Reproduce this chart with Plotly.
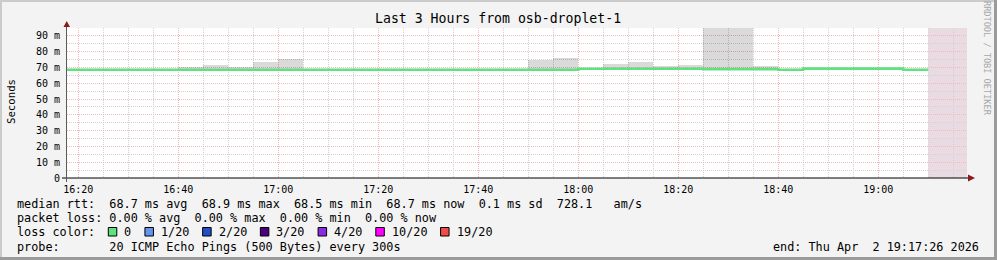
import plotly.graph_objects as go
import pandas as pd

# ---------------- data ----------------
step_start = [
    "2026-04-02 16:15", "2026-04-02 16:20", "2026-04-02 16:25", "2026-04-02 16:30",
    "2026-04-02 16:35", "2026-04-02 16:40", "2026-04-02 16:45", "2026-04-02 16:50",
    "2026-04-02 16:55", "2026-04-02 17:00", "2026-04-02 17:05", "2026-04-02 17:10",
    "2026-04-02 17:15", "2026-04-02 17:20", "2026-04-02 17:25", "2026-04-02 17:30",
    "2026-04-02 17:35", "2026-04-02 17:40", "2026-04-02 17:45", "2026-04-02 17:50",
    "2026-04-02 17:55", "2026-04-02 18:00", "2026-04-02 18:05", "2026-04-02 18:10",
    "2026-04-02 18:15", "2026-04-02 18:20", "2026-04-02 18:25", "2026-04-02 18:30",
    "2026-04-02 18:35", "2026-04-02 18:40", "2026-04-02 18:45", "2026-04-02 18:50",
    "2026-04-02 18:55", "2026-04-02 19:00", "2026-04-02 19:05",
]
data_end = "2026-04-02 19:10"

# median rtt (ms) per step
median_rtt = [
    68.6, 68.6, 68.6, 68.6, 68.6, 68.6, 68.6, 68.6, 68.6, 68.6,
    68.6, 68.6, 68.6, 68.6, 68.6, 68.6, 68.6, 68.6, 68.6, 68.6,
    68.6, 69.2, 69.2, 69.2, 69.2, 69.2, 69.0, 69.0, 69.0, 68.6,
    69.3, 69.3, 69.3, 69.3, 68.6,
]
# top of the ping "smoke" (ms), None = no visible smoke
smoke_top = [
    None, None, None, None, None, 70.1, 71.4, 70.1, 73.7, 75.6,
    None, None, None, None, None, None, None, None, None, 75.0,
    76.2, None, 72.2, 73.7, 71.2, 71.8, 130.0, 130.0, 71.2, None,
    None, None, None, None, None,
]

loss_labels = ["0", "1/20", "2/20", "3/20", "4/20", "10/20", "19/20"]
loss_colors = ["#5FE27E", "#6495ED", "#2150C6", "#4B0082", "#8A2BE2", "#FF00FF", "#EE4B4B"]

y_tick_vals = [0, 10, 20, 30, 40, 50, 60, 70, 80, 90]
y_tick_text = ["0", "10 m", "20 m", "30 m", "40 m", "50 m", "60 m", "70 m", "80 m", "90 m"]
x_tick_vals = ["2026-04-02 16:20", "2026-04-02 16:40", "2026-04-02 17:00", "2026-04-02 17:20",
               "2026-04-02 17:40", "2026-04-02 18:00", "2026-04-02 18:20", "2026-04-02 18:40",
               "2026-04-02 19:00"]
x_tick_text = ["16:20", "16:40", "17:00", "17:20", "17:40", "18:00", "18:20", "18:40", "19:00"]

title_text = "Last 3 Hours from osb-droplet-1"
y_title = "Seconds"
line_rtt = "median rtt:  68.7 ms avg  68.9 ms max  68.5 ms min  68.7 ms now  0.1 ms sd  728.1   am/s"
line_loss = "packet loss: 0.00 % avg  0.00 % max  0.00 % min  0.00 % now"
line_color = "loss color:"
line_probe = "probe:       20 ICMP Echo Pings (500 Bytes) every 300s"
line_end = "end: Thu Apr  2 19:17:26 2026"
watermark = "RRDTOOL / TOBI OETIKER"

x_range = ["2026-04-02 16:17:45", "2026-04-02 19:17:45"]
y_range = [0, 95.06]

# ---------------- layout geometry ----------------
FW, FH = 997, 260
L, T, W, H = 67, 28, 900, 150
MONO = "DejaVu Sans Mono"


def X(px):
    return (px - L) / W


def Y(py):
    return (T + H - py) / H


def nb(s):
    return s.replace(" ", "\u00a0")


starts = pd.to_datetime(step_start)
fig = go.Figure()

# smoke
sx, sb, sy = [], [], []
for t, m, top in zip(starts, median_rtt, smoke_top):
    if top is not None:
        sx.append(t + pd.Timedelta(seconds=150))
        sb.append(m)
        sy.append(top - m)
fig.add_trace(go.Bar(x=sx, y=sy, base=sb, width=300000,
                     marker=dict(color="rgba(0,0,0,0.145)", line=dict(width=0)),
                     hoverinfo="skip", showlegend=False))

# median line
lx = list(starts) + [pd.Timestamp(data_end)]
ly = median_rtt + [median_rtt[-1]]
fig.add_trace(go.Scatter(x=lx, y=ly, mode="lines", line=dict(color=loss_colors[0], width=2.6, shape="hv"),
                         hoverinfo="skip", showlegend=False))

shapes = []
# unknown / pending region
shapes.append(dict(type="rect", xref="x", yref="paper", x0=data_end, x1=x_range[1], y0=0, y1=1,
                   fillcolor="#E9DBE1", line=dict(width=0), layer="below"))
# axis lines
shapes.append(dict(type="line", xref="paper", yref="paper", x0=X(62), x1=X(969), y0=Y(178), y1=Y(178),
                   line=dict(color="#000000", width=1)))
shapes.append(dict(type="line", xref="paper", yref="paper", x0=X(66.5), x1=X(66.5), y0=Y(182), y1=Y(26),
                   line=dict(color="#5A5A5A", width=1)))
# arrows
shapes.append(dict(type="path", xref="paper", yref="paper",
                   path=f"M {X(63.5)},{Y(27)} L {X(70)},{Y(27)} L {X(66.7)},{Y(21)} Z",
                   fillcolor="#8B1A1A", line=dict(width=0)))
shapes.append(dict(type="path", xref="paper", yref="paper",
                   path=f"M {X(968)},{Y(174.5)} L {X(968)},{Y(181.5)} L {X(975)},{Y(178)} Z",
                   fillcolor="#8B1A1A", line=dict(width=0)))
# frame
shapes.append(dict(type="rect", xref="paper", yref="paper", x0=X(0), x1=X(FW), y0=Y(0), y1=Y(2),
                   fillcolor="#CBCBCB", line=dict(width=0)))
shapes.append(dict(type="rect", xref="paper", yref="paper", x0=X(0), x1=X(2), y0=Y(0), y1=Y(FH),
                   fillcolor="#CBCBCB", line=dict(width=0)))
shapes.append(dict(type="rect", xref="paper", yref="paper", x0=X(FW - 3), x1=X(FW), y0=Y(0), y1=Y(FH),
                   fillcolor="#9B9B9B", line=dict(width=0)))
shapes.append(dict(type="rect", xref="paper", yref="paper", x0=X(0), x1=X(FW), y0=Y(FH - 3), y1=Y(FH),
                   fillcolor="#9B9B9B", line=dict(width=0)))

annotations = []


def txt(s, px, py, size=11.7, xanchor="left", color="#000000", angle=0):
    annotations.append(dict(text=nb(s), x=X(px), y=Y(py), xref="paper", yref="paper",
                            xanchor=xanchor, yanchor="middle", showarrow=False, textangle=angle,
                            borderpad=0, font=dict(family=MONO, size=size, color=color)))


txt(title_text, 497.7, 19, size=13.2, xanchor="center")
txt(y_title, 11, 102, size=10.7, xanchor="center", angle=-90)
txt(watermark, 987, 59, size=8.6, xanchor="center", color="#A8A8A8", angle=90)
txt(line_rtt, 16, 204.3, size=11.8)
txt(line_loss, 16, 218.3, size=11.8)
txt(line_color, 16, 232.3, size=11.8)
txt(line_probe, 16, 246.7, size=11.8)
txt(line_end, 980, 246.7, size=11.8, xanchor="right")

# loss color legend
cw = 7.03
lab_x = 123.3
for lab, col in zip(loss_labels, loss_colors):
    shapes.append(dict(type="rect", xref="paper", yref="paper", x0=X(lab_x - 15), x1=X(lab_x - 6.5),
                       y0=Y(227.5), y1=Y(236), fillcolor=col, line=dict(color="#000000", width=1)))
    txt(lab, lab_x, 232.3, size=11.8)
    lab_x += len(lab) * cw + 29.6

DOT = "1px,1px"
MAJ = "#F6B8B8"
MIN = "#D2D2D2"
fig.update_layout(
    width=FW, height=FH,
    margin=dict(l=L, r=FW - L - W, t=T, b=FH - T - H, pad=0),
    paper_bgcolor="#F3F3F3", plot_bgcolor="#FFFFFF",
    showlegend=False, bargap=0,
    shapes=shapes, annotations=annotations,
    font=dict(family=MONO, size=10, color="#000000"),
)
fig.update_xaxes(
    type="date", range=x_range, tickmode="array", tickvals=x_tick_vals, ticktext=x_tick_text,
    showgrid=True, gridcolor=MAJ, griddash=DOT, gridwidth=1,
    minor=dict(dtick=300000, tick0="2026-04-02 16:20", showgrid=True, gridcolor=MIN,
               griddash=DOT, gridwidth=1),
    zeroline=False, showline=False, ticks="", ticklabelstandoff=4,
    tickfont=dict(family=MONO, size=10, color="#000000"),
)
fig.update_yaxes(
    range=y_range, tickmode="array", tickvals=y_tick_vals, ticktext=y_tick_text,
    showgrid=True, gridcolor=MAJ, griddash=DOT, gridwidth=1,
    minor=dict(dtick=5, tick0=0, showgrid=True, gridcolor=MIN, griddash=DOT, gridwidth=1),
    zeroline=False, showline=False, ticks="", ticklabelstandoff=6,
    tickfont=dict(family=MONO, size=10, color="#000000"),
)

fig.write_html("out.html")
